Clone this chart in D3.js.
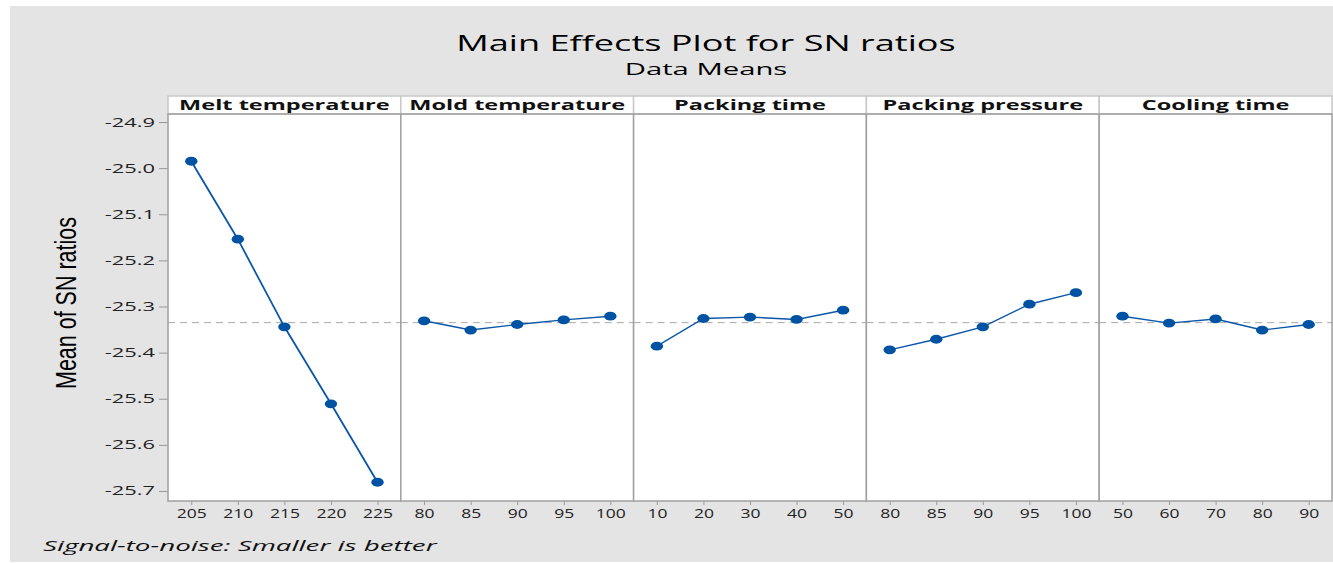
<!DOCTYPE html>
<html>
<head>
<meta charset="utf-8">
<script src="https://cdn.jsdelivr.net/npm/d3@7"></script>
<style>
  body { margin: 0; background: #fff; }
  text { font-family: "Open Sans", "Noto Sans", sans-serif; }
</style>
</head>
<body>
<svg id="chart" width="1333" height="563"></svg>
<script>
// factor names and their levels
var factors = ["Melt temperature", "Mold temperature", "Packing time", "Packing pressure", "Cooling time"];
var meltLevels = [205, 210, 215, 220, 225];
var moldLevels = [80, 85, 90, 95, 100];
var packTimeLevels = [10, 20, 30, 40, 50];
var packPressLevels = [80, 85, 90, 95, 100];
var coolLevels = [50, 60, 70, 80, 90];

// mean SN ratio at each level
var meltSN = [-24.985, -25.154, -25.344, -25.511, -25.681];
var moldSN = [-25.331, -25.351, -25.339, -25.329, -25.321];
var packTimeSN = [-25.386, -25.326, -25.323, -25.328, -25.308];
var packPressSN = [-25.394, -25.371, -25.344, -25.295, -25.270];
var coolSN = [-25.321, -25.336, -25.327, -25.351, -25.339];

var overallMean = -25.335;
var yTicks = [-24.9, -25.0, -25.1, -25.2, -25.3, -25.4, -25.5, -25.6, -25.7];

var levels = [meltLevels, moldLevels, packTimeLevels, packPressLevels, coolLevels];
var values = [meltSN, moldSN, packTimeSN, packPressSN, coolSN];

var svg = d3.select("#chart");
var SX = 1.75;   // the picture is stretched sideways
var plotLeft = 168, plotRight = 1332, plotTop = 114, plotBottom = 501, stripTop = 96;
var panelW = (plotRight - plotLeft) / factors.length;
var blue = "#0a56a8";

// gray backdrop
svg.append("rect").attr("x", 10).attr("y", 6).attr("width", 1323).attr("height", 556).attr("fill", "#e4e4e4");

function stretched(x, y, str, size, anchor, sx) {
  return svg.append("text")
    .attr("transform", "translate(" + x + "," + y + ") scale(" + (sx || SX) + ",1)")
    .attr("text-anchor", anchor || "middle")
    .style("font-size", size + "px")
    .attr("fill", "#111")
    .text(str);
}

stretched(706, 51, "Main Effects Plot for SN ratios", 21, "middle", 1.72).attr("fill", "#000");
stretched(706, 75, "Data Means", 17, "middle", 1.72).attr("fill", "#000");
stretched(43, 551, "Signal-to-noise: Smaller is better", 15, "start", 1.85).style("font-style", "italic");

// y label, rotated
svg.append("text")
  .attr("transform", "translate(76,303) rotate(-90) scale(1,1.35)")
  .attr("text-anchor", "middle")
  .style("font-family", "'Liberation Sans Narrow', 'Liberation Sans', Arial, sans-serif")
  .style("font-size", "21.5px")
  .attr("fill", "#000")
  .text("Mean of SN ratios");

var y = d3.scaleLinear().domain([-25.7217, -24.8826]).range([plotBottom, plotTop]);

// y axis
var yAxis = svg.append("g")
  .attr("transform", "translate(" + plotLeft + ",0)")
  .call(d3.axisLeft(y).tickValues(yTicks).tickSize(9).tickFormat(function(d){ return d.toFixed(1); }));
yAxis.select(".domain").remove();
yAxis.selectAll(".tick line").attr("stroke", "#999");
yAxis.selectAll(".tick text")
  .attr("x", -13 / SX)
  .attr("transform", "scale(" + SX + ",1)")
  .style("font-size", "12.5px")
  .attr("fill", "#222");

factors.forEach(function(name, i) {
  var x0 = plotLeft + i * panelW;
  var x = d3.scalePoint().domain(levels[i]).range([x0, x0 + panelW]).padding(0.5);

  // panel area
  svg.append("rect").attr("x", x0).attr("y", plotTop).attr("width", panelW).attr("height", plotBottom - plotTop)
    .attr("fill", "#fff");

  // header strip
  svg.append("rect").attr("x", x0).attr("y", stripTop).attr("width", panelW).attr("height", plotTop - stripTop)
    .attr("fill", "#fff").attr("stroke", "#c8c8c8").attr("stroke-width", 1.5);
  stretched(x0 + panelW / 2, 110, name, 14, "middle", 1.68).style("font-weight", "bold");

  // x axis
  var xAxis = svg.append("g")
    .attr("transform", "translate(0," + plotBottom + ")")
    .call(d3.axisBottom(x).tickSize(4).tickPadding(4));
  xAxis.select(".domain").remove();
  xAxis.selectAll(".tick line").attr("stroke", "#999");
  xAxis.selectAll(".tick text")
    .attr("transform", "scale(1.4,1)")
    .style("font-size", "12.5px")
    .attr("fill", "#222");

  // mean reference line
  svg.append("line").attr("x1", x0).attr("x2", x0 + panelW)
    .attr("y1", y(overallMean)).attr("y2", y(overallMean))
    .attr("stroke", "#a8a8a8").attr("stroke-dasharray", "7,5").attr("stroke-width", 1);

  var pts = levels[i].map(function(l, j) { return [l, values[i][j]]; });

  svg.append("path").datum(pts)
    .attr("fill", "none").attr("stroke", blue).attr("stroke-width", i === 0 ? 1.8 : 1.4)
    .attr("d", d3.line().x(function(d){ return x(d[0]); }).y(function(d){ return y(d[1]); }));

  svg.selectAll(null).data(pts).enter().append("ellipse")
    .attr("cx", function(d){ return x(d[0]); })
    .attr("cy", function(d){ return y(d[1]); })
    .attr("rx", 6.2).attr("ry", 4.4)
    .attr("fill", "#0052a3");

  // panel border
  svg.append("rect").attr("x", x0).attr("y", plotTop).attr("width", panelW).attr("height", plotBottom - plotTop)
    .attr("fill", "none").attr("stroke", "#a0a0a0").attr("stroke-width", 1.5);
});
</script>
</body>
</html>
